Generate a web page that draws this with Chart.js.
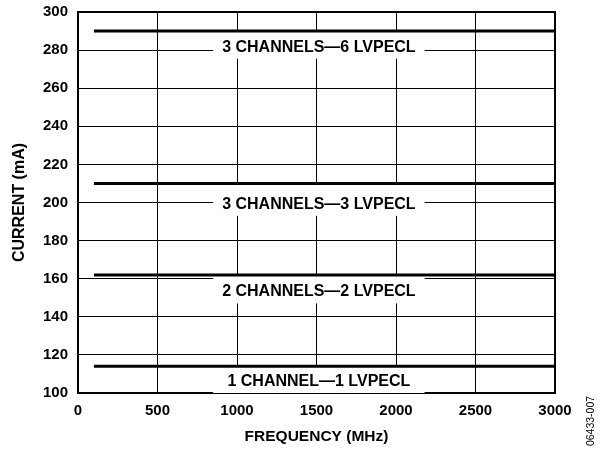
<!DOCTYPE html>
<html>
<head>
<meta charset="utf-8">
<script src="https://cdn.jsdelivr.net/npm/chart.js@4.4.0/dist/chart.umd.min.js"></script>
<style>
  html, body { margin: 0; padding: 0; background: #fff; }
  #wrap { width: 600px; height: 452px; }
</style>
</head>
<body>
<div id="wrap"><canvas id="myChart"></canvas></div>
<script>
// frequency range of each trace (MHz)
const freqStart = 100;
const freqEnd = 3000;

// supply current per configuration (mA), flat over frequency
const seriesNames = ['3 CHANNELS\u20146 LVPECL', '3 CHANNELS\u20143 LVPECL', '2 CHANNELS\u20142 LVPECL', '1 CHANNEL\u20141 LVPECL'];
const currents = [290, 210, 162, 114];
// where each text label sits (mA), just under its line
const labelLevels = [281.5, 199, 153, 106];

const xTicks = [0, 500, 1000, 1500, 2000, 2500, 3000];
const yTicks = [100, 120, 140, 160, 180, 200, 220, 240, 260, 280, 300];

const FONT = 'Arial, "Liberation Sans", Helvetica, sans-serif';

// white label boxes + heavy frame, drawn over the grid but under the lines
const labelPlugin = {
    id: 'labels',
    beforeDatasetsDraw(chart) {
        const { ctx, chartArea: a, scales } = chart;
        const x = scales.x, y = scales.y;
        ctx.save();
        ctx.strokeStyle = '#000';
        ctx.lineWidth = 2;
        ctx.strokeRect(a.left, a.top, a.right - a.left, a.bottom - a.top);

        const bx0 = x.getPixelForValue(850);
        const bx1 = x.getPixelForValue(2180);
        ctx.font = 'bold 16px ' + FONT;
        ctx.textAlign = 'center';
        ctx.textBaseline = 'middle';
        currents.forEach((c, i) => {
            const top = y.getPixelForValue(c);
            let bottom = y.getPixelForValue(labelLevels[i] - 6);
            if (bottom > a.bottom) bottom = a.bottom + 2;
            ctx.fillStyle = '#fff';
            ctx.fillRect(bx0, top, bx1 - bx0, bottom - top);
            ctx.fillStyle = '#000';
            ctx.fillText(seriesNames[i], (bx0 + bx1) / 2, y.getPixelForValue(labelLevels[i]));
        });
        ctx.restore();
    },
    afterDraw(chart) {
        const { ctx } = chart;
        ctx.save();
        ctx.translate(591, 421);
        ctx.rotate(-Math.PI / 2);
        ctx.font = '10.5px ' + FONT;
        ctx.fillStyle = '#000';
        ctx.textAlign = 'center';
        ctx.textBaseline = 'middle';
        ctx.fillText('06433-007', 0, 0);
        ctx.restore();
    }
};

const myChart = new Chart('myChart', {
    type: 'line',
    data: {
        datasets: currents.map((c, i) => ({
            label: seriesNames[i],
            data: [{ x: freqStart, y: c }, { x: freqEnd, y: c }],
            borderColor: '#000',
            borderWidth: 3,
            pointRadius: 0,
            fill: false
        }))
    },
    options: {
        responsive: true,
        maintainAspectRatio: false,
        animation: false,
        layout: { padding: { top: 12, right: 45, left: 0, bottom: 0 } },
        scales: {
            x: {
                type: 'linear',
                min: 0,
                max: 3000,
                afterBuildTicks: s => { s.ticks = xTicks.map(v => ({ value: v })); },
                afterFit: s => { s.height = 59; s.paddingLeft = 0; s.paddingRight = 0; },
                grid: { color: '#000', lineWidth: 1, drawTicks: false },
                border: { display: false },
                ticks: {
                    padding: 9,
                    color: '#000',
                    maxRotation: 0,
                    callback: v => String(v),
                    font: { family: FONT, size: 15, weight: 'bold' }
                },
                title: {
                    display: true,
                    text: 'FREQUENCY (MHz)',
                    color: '#000',
                    padding: { top: 4, bottom: 6 },
                    font: { family: FONT, size: 15.5, weight: 'bold' }
                }
            },
            y: {
                min: 100,
                max: 300,
                afterBuildTicks: s => { s.ticks = yTicks.map(v => ({ value: v })); },
                afterFit: s => { s.width = 78; s.paddingTop = 0; s.paddingBottom = 0; },
                grid: { color: '#000', lineWidth: 1, drawTicks: false },
                border: { display: false },
                ticks: {
                    padding: 10,
                    color: '#000',
                    callback: v => String(v),
                    font: { family: FONT, size: 15, weight: 'bold' }
                },
                title: {
                    display: true,
                    text: 'CURRENT (mA)',
                    color: '#000',
                    padding: { top: 10, bottom: 0 },
                    font: { family: FONT, size: 16, weight: 'bold' }
                }
            }
        },
        plugins: {
            legend: false,
            tooltip: { enabled: false }
        }
    },
    plugins: [labelPlugin]
});
</script>
</body>
</html>
